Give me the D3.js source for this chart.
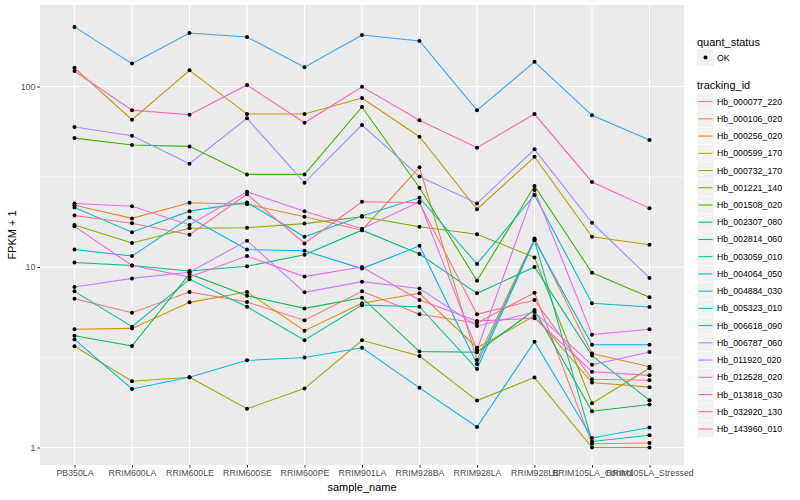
<!DOCTYPE html>
<html>
<head>
<meta charset="utf-8">
<script src="https://cdn.jsdelivr.net/npm/d3@7"></script>
<style>
	body{margin:0;background:#fff}
	text{font-family:"Liberation Sans",Arial,sans-serif}
</style>
</head>
<body>
<svg id="chart" width="800" height="500"></svg>
<script>
// sample names along x
var samples = ["PB350LA","RRIM600LA","RRIM600LE","RRIM600SE","RRIM600PE","RRIM901LA","RRIM928BA","RRIM928LA","RRIM928LB","RRIM105LA_Control","RRIM105LA_Stressed"]

var trackingIds = ["Hb_000077_220","Hb_000106_020","Hb_000256_020","Hb_000599_170","Hb_000732_170","Hb_001221_140","Hb_001508_020","Hb_002307_080","Hb_002814_060","Hb_003059_010","Hb_004064_050","Hb_004884_030","Hb_005323_010","Hb_006618_090","Hb_006787_060","Hb_011920_020","Hb_012528_020","Hb_013818_030","Hb_032920_130","Hb_143960_010"]

// ggplot hue palette, 20 levels
var colours = ["#F8766D","#EA8331","#D89000","#C09B00","#A3A500","#7CAE00","#39B600","#00BB4E","#00BF7D","#00C1A3","#00BFC4","#00BAE0","#00B0F6","#35A2FF","#9590FF","#C77CFF","#E76BF3","#FA62DB","#FF62BC","#FF6C91"]

// FPKM + 1, one array per gene, in sample order
var hb_000077_220 = [6.67,5.58,7.27,6.4,5.07,7.33,5.47,4.9,7.2,1.05,1.06]
var hb_000106_020 = [22.0,18.6,22.7,22.3,19.0,16.0,35.7,3.05,14.4,3.32,2.8]
var hb_000256_020 = [4.52,4.57,6.37,7.27,4.44,6.3,7.15,3.57,5.35,2.29,2.16]
var hb_000599_170 = [127,65.5,123,70.4,70.4,86.3,52.7,20.9,40.8,14.7,13.3]
var hb_000732_170 = [3.64,2.33,2.45,1.64,2.12,3.93,3.21,1.82,2.44,1.0,1.0]
var hb_001221_140 = [17.1,13.6,16.4,16.5,17.4,19.0,16.7,15.2,11.3,1.76,2.75]
var hb_001508_020 = [51.8,47.4,46.6,32.6,32.6,77,27.5,8.4,28.1,9.3,6.8]
var hb_002307_080 = [4.16,3.65,9.15,6.93,5.9,6.76,3.4,3.37,5.78,1.59,1.73]
var hb_002814_060 = [10.6,10.2,9.5,10.1,11.7,16.0,11.8,7.15,10.0,3.23,1.83]
var hb_003059_010 = [7.33,4.67,8.55,6.03,3.93,6.15,6.03,2.72,14.1,1.08,1.17]
var hb_004064_050 = [21.4,15.6,20.4,22.8,14.7,19.2,24.2,10.4,25.1,6.3,6.0]
var hb_004884_030 = [3.97,2.11,2.45,3.04,3.15,3.57,2.14,1.30,3.86,1.13,1.29]
var hb_005323_010 = [12.5,11.5,18.8,12.5,12.3,9.8,13.1,2.9,14.1,3.71,3.71]
var hb_006618_090 = [214,134,198,188,128,193,179,73.8,137,69.3,50.5]
var hb_006787_060 = [59.7,53.4,37.4,66.7,29.3,61.2,31.7,22.5,44.9,17.6,8.7]
var hb_011920_020 = [7.75,8.65,9.35,14.0,7.24,8.3,7.6,4.71,5.63,2.87,3.38]
var hb_012528_020 = [22.5,21.7,17.1,26.1,20.4,16.3,23.0,3.47,26.7,4.22,4.52]
var hb_013818_030 = [16.8,10.2,8.8,11.5,8.85,10.0,6.56,5.02,5.21,2.63,2.51]
var hb_032920_130 = [122,74,69.8,102,63,99.7,65,45.8,70.4,29.6,21.2]
var hb_143960_010 = [19.3,17.5,15.1,25.3,13.5,23.0,22.7,5.47,6.56,2.39,2.36]

var yTicks = [1,10,100]
var yMinor = [Math.pow(10,0.5),Math.pow(10,1.5)]

var seriesValues = [hb_000077_220,hb_000106_020,hb_000256_020,hb_000599_170,hb_000732_170,hb_001221_140,hb_001508_020,hb_002307_080,hb_002814_060,hb_003059_010,hb_004064_050,hb_004884_030,hb_005323_010,hb_006618_090,hb_006787_060,hb_011920_020,hb_012528_020,hb_013818_030,hb_032920_130,hb_143960_010]

var series = trackingIds.map((id,i)=>({
	id: id,
	colour: colours[i],
	points: seriesValues[i].map((v,j)=>({sample:samples[j],value:v}))
}))

var panel = {left:40, right:684, top:5, bottom:465}

var svg = d3.select("#chart")

var x = d3.scalePoint()
	.domain(samples)
	.range([panel.left,panel.right])
	.padding(0.6)

var y = d3.scaleLog()
	.domain([0.8,283])
	.range([panel.bottom,panel.top])

// panel background + grid
svg.append("rect")
	.attr("x",panel.left).attr("y",panel.top)
	.attr("width",panel.right-panel.left).attr("height",panel.bottom-panel.top)
	.attr("fill","#EBEBEB")

svg.append("g").selectAll("line").data(yMinor).enter().append("line")
	.attr("x1",panel.left).attr("x2",panel.right)
	.attr("y1",d=>y(d)).attr("y2",d=>y(d))
	.attr("stroke","#fff").attr("stroke-width",0.55)

svg.append("g").selectAll("line").data(yTicks).enter().append("line")
	.attr("x1",panel.left).attr("x2",panel.right)
	.attr("y1",d=>y(d)).attr("y2",d=>y(d))
	.attr("stroke","#fff").attr("stroke-width",1.1)

svg.append("g").selectAll("line").data(samples).enter().append("line")
	.attr("x1",d=>x(d)).attr("x2",d=>x(d))
	.attr("y1",panel.top).attr("y2",panel.bottom)
	.attr("stroke","#fff").attr("stroke-width",1.1)

// axes
var yAxis = d3.axisLeft(y)
	.tickValues(yTicks)
	.tickFormat(d3.format("d"))
	.tickSize(2.7)
	.tickPadding(2)

var xAxis = d3.axisBottom(x)
	.tickSize(2.7)
	.tickPadding(2)

var gy = svg.append("g")
	.attr("transform",`translate(${panel.left},0)`)
	.call(yAxis)

var gx = svg.append("g")
	.attr("transform",`translate(0,${panel.bottom})`)
	.call(xAxis)

;[gx,gy].forEach(g=>{
	g.select(".domain").remove()
	g.selectAll(".tick line").attr("stroke","#333333")
	g.selectAll(".tick text")
		.attr("fill","#4D4D4D")
		.style("font-size","8.8px")
})

svg.append("text")
	.attr("x",(panel.left+panel.right)/2).attr("y",491)
	.attr("text-anchor","middle")
	.style("font-size","11px")
	.text("sample_name")

svg.append("text")
	.attr("transform",`translate(16,${(panel.top+panel.bottom)/2}) rotate(-90)`)
	.attr("text-anchor","middle")
	.style("font-size","11px")
	.text("FPKM + 1")

// lines
var line = d3.line()
	.x(d=>x(d.sample))
	.y(d=>y(d.value))

svg.append("g").selectAll("path").data(series).enter().append("path")
	.attr("d",d=>line(d.points))
	.attr("fill","none")
	.attr("stroke",d=>d.colour)
	.attr("stroke-width",1.07)

// points
var allPoints = series.flatMap(s=>s.points)
svg.append("g").selectAll("circle").data(allPoints).enter().append("circle")
	.attr("cx",d=>x(d.sample))
	.attr("cy",d=>y(d.value))
	.attr("r",2)
	.attr("fill","#000")

// legends
var lg = svg.append("g").attr("transform","translate(697,0)")

lg.append("text").attr("x",0).attr("y",46).style("font-size","11px").text("quant_status")
lg.append("rect").attr("x",0).attr("y",49).attr("width",17).attr("height",17).attr("fill","#F2F2F2")
lg.append("circle").attr("cx",8.5).attr("cy",57.5).attr("r",2).attr("fill","#000")
lg.append("text").attr("x",20).attr("y",60.5).style("font-size","8.8px").text("OK")

lg.append("text").attr("x",0).attr("y",88.5).style("font-size","11px").text("tracking_id")

var keyH = 17.23
var keys = lg.selectAll(".key").data(series).enter().append("g")
	.attr("class","key")
	.attr("transform",(d,i)=>`translate(0,${93+i*keyH})`)

keys.append("rect")
	.attr("width",17).attr("height",keyH)
	.attr("fill","#F2F2F2").attr("stroke","#fff").attr("stroke-width",0.6)
keys.append("line")
	.attr("x1",1.5).attr("x2",15.5)
	.attr("y1",keyH/2).attr("y2",keyH/2)
	.attr("stroke",d=>d.colour).attr("stroke-width",1.07)
keys.append("text")
	.attr("x",20).attr("y",keyH/2+3)
	.style("font-size","8.8px")
	.text(d=>d.id)
</script>
</body>
</html>
